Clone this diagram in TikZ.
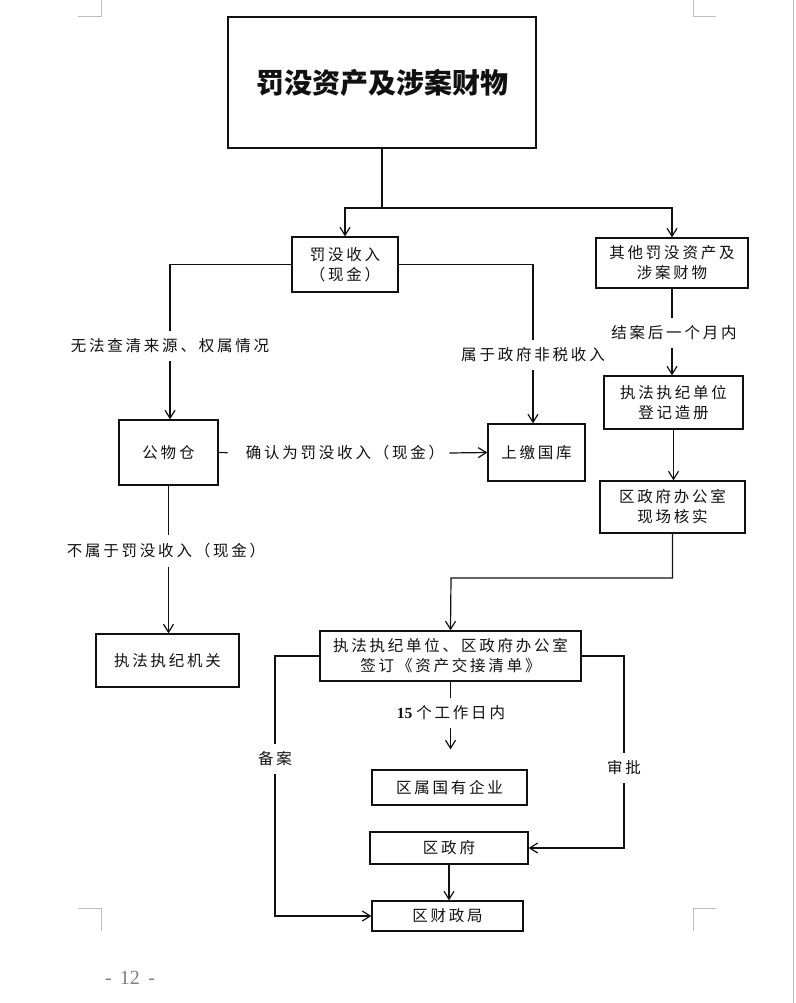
\documentclass[tikz,border=0pt]{standalone}
\usepackage{fontspec}
\setmainfont{Liberation Serif}
\newfontfamily\cjk[LetterSpace=18]{Noto Sans CJK SC}
\newfontfamily\cjkhead{Noto Sans CJK SC}
\usepackage{tikz}
\usetikzlibrary{arrows.meta,positioning}
\definecolor{fmink}  {HTML}{111111}
\definecolor{fmmark} {HTML}{BDBDBD}
\definecolor{fmpage} {HTML}{808080}
\tikzset{
  fmnode/.style={draw=fmink, line width=1.3pt, fill=white, align=center, inner sep=2pt,
                 font=\cjk\fontsize{15.5}{20}\selectfont, text=fmink},
  fmtitle/.style={fmnode, font=\cjkhead\bfseries\fontsize{28}{32}\selectfont},
  fmlabel/.style={font=\cjk\fontsize{15.5}{20}\selectfont, text=fmink, inner xsep=5pt, inner ysep=8pt},
  fmline/.style={draw=fmink, line width=1.2pt},
  fmedge/.style={fmline, -{Straight Barb[length=8pt,width=10pt]}},
  fmcrop/.style={draw=fmmark, line width=1pt},
}
\begin{document}
\begin{tikzpicture}[x=1pt,y=-1pt]
  \useasboundingbox (0,0) rectangle (795,1003);
  \fill[white] (0,0) rectangle (795,1003);
  % page marks
  \draw[fmcrop] (78,17) -- (101,17) -- (101,0);
  \draw[fmcrop] (716,17) -- (693,17) -- (693,0);
  \draw[fmcrop] (78,908) -- (101,908) -- (101,931);
  \draw[fmcrop] (716,908) -- (693,908) -- (693,931);
  \draw[fmcrop] (793,0) -- (793,1003);
  \node[text=fmpage, font=\fontsize{20}{22}\selectfont] (pageno) at (130,978) {-\, 12 \,-};
  % boxes
  \node[fmtitle, minimum width=308pt, minimum height=131pt] (title) at (382,82.5) {罚没资产及涉案财物};
  \node[fmnode, minimum width=106pt, minimum height=55pt] (cash) at (345,264.5) {罚没收入\\（现金）};
  \node[fmnode, minimum width=152pt, minimum height=50pt] (other) at (672,263) {其他罚没资产及\\涉案财物};
  \node[fmnode, minimum width=99pt, minimum height=65pt] (store) at (168.5,452.5) {公物仓};
  \node[fmnode, minimum width=97pt, minimum height=57pt] (treasury) at (536.5,452.5) {上缴国库};
  \node[fmnode, minimum width=139pt, minimum height=53pt] (register) at (673.5,402.5) {执法执纪单位\\登记造册};
  \node[fmnode, minimum width=145pt, minimum height=52pt] (verify) at (672.5,507) {区政府办公室\\现场核实};
  \node[fmnode, minimum width=143pt, minimum height=53pt] (organ) at (167.5,660.5) {执法执纪机关};
  \node[fmnode, minimum width=261pt, minimum height=50pt] (sign) at (450.5,656) {执法执纪单位、区政府办公室\\签订《资产交接清单》};
  \node[fmnode, minimum width=155pt, minimum height=35pt] (soe) at (449.5,787.5) {区属国有企业};
  \node[fmnode, minimum width=158pt, minimum height=32pt] (distgov) at (449,848) {区政府};
  \node[fmnode, minimum width=151pt, minimum height=30pt] (finance) at (447.5,916) {区财政局};
  % labels
  \node[fmlabel] (nosrc) at (170,346) {无法查清来源、权属情况};
  \node[fmlabel] (nontax) at (533,355) {属于政府非税收入};
  \node[fmlabel] (confirm) at (345,453) {确认为罚没收入（现金）};
  \node[fmlabel] (notcash) at (166,551) {不属于罚没收入（现金）};
  \node[fmlabel] (month) at (674,333) {结案后一个月内};
  \node[fmlabel] (days) at (451,713) {{\rmfamily\bfseries 15 }个工作日内};
  \node[fmlabel] (filing) at (275,759) {备案};
  \node[fmlabel] (approve) at (624,768) {审批};
  % connectors
  \coordinate (split) at (382,208);
  \draw[fmline] (title.south) -- (split);
  \draw[fmedge] (split) -| (cash.north);
  \draw[fmedge] (split) -| (other.north);
  \draw[fmline] (cash.west) -| (nosrc.north);
  \draw[fmedge] (nosrc.south) -- (nosrc.south |- store.north);
  \draw[fmline] (cash.east) -| (nontax.north);
  \draw[fmedge] (nontax.south) -- (nontax.south |- treasury.north);
  \draw[fmline, shorten >=13pt] (store.east) -- (confirm.west);
  \draw[fmedge] (confirm.east) -- (treasury.west);
  \draw[fmline] (store.south) -- (notcash.north -| store.south);
  \draw[fmedge] (notcash.south -| store.south) -- (organ.north -| store.south);
  \draw[fmline] (other.south) -- (month.north -| other.south);
  \draw[fmedge] (month.south -| other.south) -- (register.north -| other.south);
  \draw[fmedge] (register.south) -- (register.south |- verify.north);
  \coordinate (bend) at (451,578);
  \draw[fmedge] (verify.south) |- (bend) -- (sign.north);
  \draw[fmline] (sign.south) -- (days.north -| sign.south);
  \draw[fmedge, shorten >=20pt] (days.south -| sign.south) -- (soe.north -| sign.south);
  \draw[fmline] (sign.west) -| (filing.north);
  \draw[fmedge] (filing.south) |- (finance.west);
  \draw[fmline] (sign.east) -| (approve.north);
  \draw[fmedge] (approve.south) |- (distgov.east);
  \draw[fmedge] (distgov.south) -- (distgov.south |- finance.north);
\end{tikzpicture}
\end{document}
